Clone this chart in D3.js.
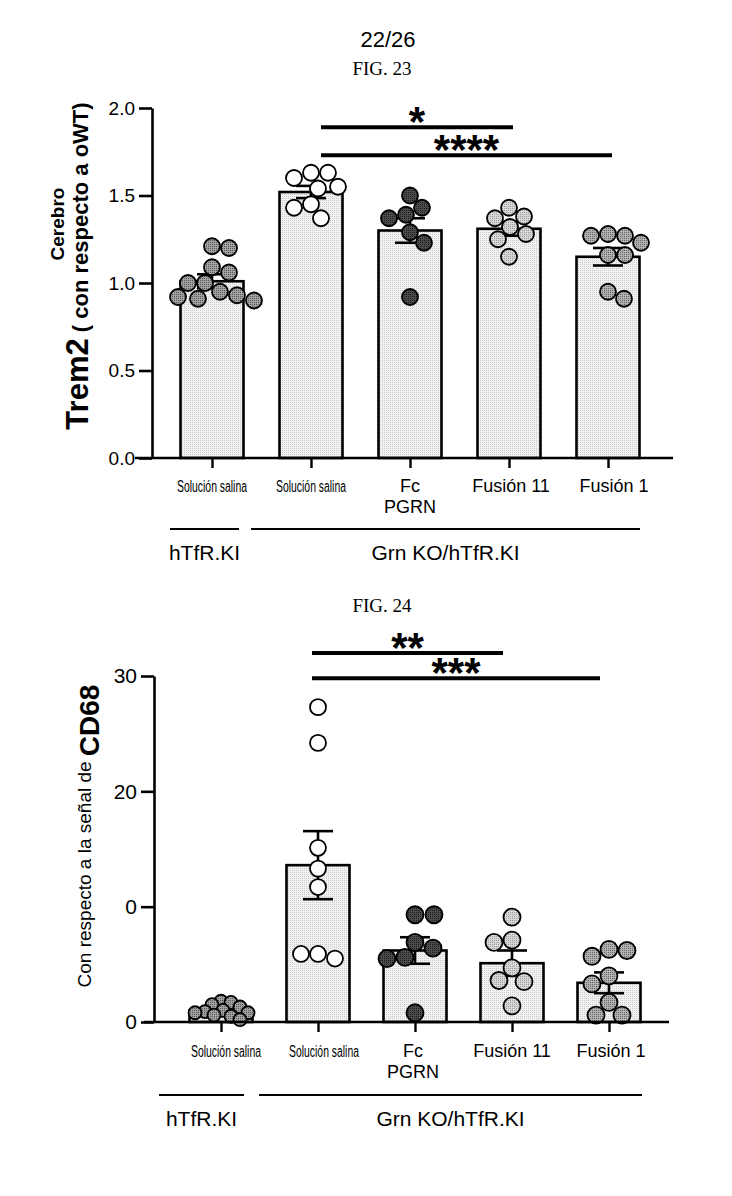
<!DOCTYPE html>
<html>
<head>
<meta charset="utf-8">
<script src="https://cdn.jsdelivr.net/npm/d3@7"></script>
<style>
  body { margin: 0; background: #fff; }
  svg text { font-family: "Liberation Sans", Arial, sans-serif; fill: #000; }
</style>
</head>
<body>
<svg id="page" width="732" height="1196"></svg>
<script>
// Category labels (one array per line) and genotype groups
var catLabels = [["Solución salina"], ["Solución salina"], ["Fc", "PGRN"], ["Fusión 11"], ["Fusión  1"]];
var groupNames = ["hTfR.KI", "Grn KO/hTfR.KI"];
var groupSpans = [[0, 0], [1, 4]];

// FIG. 23 - Trem2 cerebro
var trem2Ticks = [0, 0.5, 1.0, 1.5, 2.0];
var trem2TickLabels = ["0.0", "0.5", "1.0", "1.5", "2.0"];
var trem2Means = [1.01, 1.52, 1.30, 1.31, 1.15];
var trem2Sems = [0.04, 0.035, 0.07, 0.04, 0.05];
var trem2Points = [
  [1.21, 1.20, 1.09, 1.06, 1.00, 1.00, 0.95, 0.93, 0.92, 0.91, 0.90],
  [1.63, 1.63, 1.60, 1.55, 1.54, 1.45, 1.43, 1.37],
  [1.50, 1.43, 1.39, 1.37, 1.29, 1.23, 0.92],
  [1.43, 1.38, 1.37, 1.32, 1.28, 1.25, 1.15],
  [1.28, 1.27, 1.27, 1.23, 1.16, 1.16, 0.95, 0.91]
];
var trem2Sig = [[1, 3, 1.89, "*"], [1, 4, 1.73, "****"]];

// FIG. 24 - CD68
var cd68Ticks = [0, 10, 20, 30];
var cd68TickLabels = ["0", "0", "20", "30"];
var cd68Means = [1.0, 13.6, 6.2, 5.1, 3.4];
var cd68Sems = [0.15, 2.95, 1.15, 1.1, 0.9];
var cd68Points = [
  [1.8, 1.7, 1.5, 1.3, 1.0, 0.9, 0.8, 0.8, 0.6, 0.5, 0.2],
  [27.3, 24.2, 15.1, 13.3, 11.7, 5.9, 5.9, 5.5],
  [9.3, 9.3, 6.9, 6.4, 5.6, 5.5, 0.8],
  [9.1, 7.1, 6.9, 4.7, 3.6, 3.5, 1.4],
  [6.3, 6.2, 5.7, 4.0, 3.3, 1.7, 0.6, 0.6]
];
var cd68Sig = [[1, 3, 32.0, "**"], [1, 4, 29.8, "***"]];

var svg = d3.select("#page");
var defs = svg.append("defs");

// small dotted textures like the scanned print
function makePattern(id, base, dot) {
  var p = defs.append("pattern").attr("id", id)
    .attr("patternUnits", "userSpaceOnUse").attr("width", 2).attr("height", 2);
  p.append("rect").attr("width", 2).attr("height", 2).attr("fill", base);
  p.append("rect").attr("width", 1).attr("height", 1).attr("fill", dot);
  return "url(#" + id + ")";
}
var barFill = makePattern("barFill", "#f2f2f2", "#cdcdcd");
var pointFills = [
  makePattern("pf0", "#a2a2a2", "#555"),
  "#ffffff",
  makePattern("pf2", "#4c4c4c", "#1c1c1c"),
  makePattern("pf3", "#d8d8d8", "#9c9c9c"),
  makePattern("pf4", "#b2b2b2", "#646464")
];

// page header
svg.append("text").attr("x", 388).attr("y", 47).attr("text-anchor", "middle")
  .style("font-size", "22px").text("22/26");

// simple beeswarm: push each point sideways until it does not overlap
// (alternate the side tried first so the swarm stays centred)
function swarmOffsets(vals, y, minDist) {
  var placed = [], out = [];
  var order = d3.range(vals.length).sort(function(a, b) { return vals[b] - vals[a]; });
  order.forEach(function(i, n) {
    var py = y(vals[i]);
    var side = n % 2 ? 1 : -1;
    for (var k = 0; k < 400; k++) {
      var dx = (k % 2 ? side : -side) * Math.ceil(k / 2);
      var ok = placed.every(function(p) { return Math.hypot(p.x - dx, p.y - py) >= minDist; });
      if (ok) { placed.push({x: dx, y: py}); out[i] = dx; break; }
    }
  });
  return out;
}

function drawPanel(o) {
  var g = svg.append("g");

  // figure caption
  g.append("text").attr("x", 382).attr("y", o.figY).attr("text-anchor", "middle")
    .style("font-family", "'Liberation Serif', 'Times New Roman', serif")
    .style("font-size", "19px").text(o.fig);

  var y = d3.scaleLinear().domain([0, o.yMax]).range([o.yBottom, o.yTop]);
  var x = d3.scalePoint().domain(d3.range(catLabels.length)).range([o.xFirst, o.xLast]);

  // bars
  g.selectAll(".bar").data(o.means).enter().append("rect")
    .attr("class", "bar")
    .attr("x", function(d, i) { return x(i) - o.barW / 2; })
    .attr("y", function(d) { return y(d); })
    .attr("width", o.barW)
    .attr("height", function(d) { return y(0) - y(d); })
    .attr("fill", barFill).attr("stroke", "#000").attr("stroke-width", 2.6);

  // error bars (mean +/- SEM)
  var eb = g.selectAll(".err").data(o.means).enter().append("g").attr("class", "err")
    .attr("stroke", "#000").attr("stroke-width", 2.6);
  eb.append("line")
    .attr("x1", function(d, i) { return x(i); }).attr("x2", function(d, i) { return x(i); })
    .attr("y1", function(d, i) { return y(d + o.sems[i]); })
    .attr("y2", function(d, i) { return y(d - o.sems[i]); });
  [1, -1].forEach(function(s) {
    eb.append("line")
      .attr("x1", function(d, i) { return x(i) - 15; }).attr("x2", function(d, i) { return x(i) + 15; })
      .attr("y1", function(d, i) { return y(d + s * o.sems[i]); })
      .attr("y2", function(d, i) { return y(d + s * o.sems[i]); });
  });

  // individual animals
  o.points.forEach(function(vals, i) {
    var r = o.radius[i];
    var offs = swarmOffsets(vals, y, 2 * r * o.spread[i]);
    g.selectAll(".pt" + i).data(vals).enter().append("circle")
      .attr("class", "pt" + i)
      .attr("cx", function(d, j) { return x(i) + offs[j]; })
      .attr("cy", function(d) { return y(d); })
      .attr("r", r)
      .attr("fill", pointFills[i]).attr("stroke", "#000").attr("stroke-width", 1.8);
  });

  // y axis
  var ya = g.append("g").attr("transform", "translate(" + o.yAxisX + ",0)")
    .call(d3.axisLeft(y).tickValues(o.ticks).tickSize(13).tickSizeOuter(0).tickPadding(4)
      .tickFormat(function(d, i) { return o.tickLabels[i]; }));
  ya.select(".domain").attr("stroke-width", 2.6);
  ya.selectAll(".tick line").attr("stroke-width", 2.6);
  ya.selectAll(".tick text").attr("font-family", null).style("font-size", o.tickFont);

  // x axis
  g.append("line").attr("x1", o.xAxisFrom).attr("x2", o.xAxisTo)
    .attr("y1", y(0)).attr("y2", y(0)).attr("stroke", "#000").attr("stroke-width", 2.6);
  var xa = g.append("g").attr("transform", "translate(0," + y(0) + ")")
    .call(d3.axisBottom(x).tickSize(10).tickFormat(""));
  xa.select(".domain").remove();
  xa.selectAll(".tick line").attr("stroke-width", 2.4);

  // category labels
  catLabels.forEach(function(lines, i) {
    lines.forEach(function(t, k) {
      var tx = g.append("text").attr("x", x(i) + o.labelDx[i]).attr("y", o.catY + k * 21)
        .attr("text-anchor", "middle").text(t);
      if (t.indexOf("salina") >= 0) {
        tx.style("font-size", "16px").attr("textLength", 70).attr("lengthAdjust", "spacingAndGlyphs");
      } else {
        tx.style("font-size", "18px");
      }
    });
  });

  // genotype group rules and names
  groupSpans.forEach(function(s, k) {
    g.append("line").attr("x1", o.groupX[k][0]).attr("x2", o.groupX[k][1])
      .attr("y1", o.groupLineY).attr("y2", o.groupLineY)
      .attr("stroke", "#000").attr("stroke-width", 2);
    g.append("text").attr("x", (o.groupX[k][0] + o.groupX[k][1]) / 2 + o.groupDx[k])
      .attr("y", o.groupLineY + 31).attr("text-anchor", "middle")
      .style("font-size", "21px").text(groupNames[k]);
  });

  // significance bars
  o.sig.forEach(function(s) {
    var x1 = x(s[0]) + o.sigDx[0], x2 = x(s[1]) + o.sigDx[1];
    g.append("line").attr("x1", x1).attr("x2", x2).attr("y1", y(s[2])).attr("y2", y(s[2]))
      .attr("stroke", "#000").attr("stroke-width", 4);
    g.append("text").attr("x", (x1 + x2) / 2).attr("y", y(s[2]) + o.starDy)
      .attr("text-anchor", "middle").style("font-size", "42px").style("font-weight", "bold")
      .text(s[3]);
  });

  // y title
  var yt = g.append("text").attr("text-anchor", "middle")
    .attr("transform", "translate(" + o.titleX + "," + o.titleY + ") rotate(-90)");
  o.title.forEach(function(p) {
    yt.append("tspan").attr("dy", p[3]).style("font-size", p[1]).style("font-weight", p[2]).text(p[0]);
  });
  if (o.title2) {
    g.append("text").attr("text-anchor", "middle")
      .attr("transform", "translate(" + o.title2[1] + "," + o.title2[2] + ") rotate(-90)")
      .style("font-size", "19px").style("font-weight", "bold").text(o.title2[0]);
  }
}

drawPanel({
  fig: "FIG. 23", figY: 75,
  yMax: 2, yTop: 108, yBottom: 458, yAxisX: 152,
  xFirst: 212, xLast: 608, xAxisFrom: 135, xAxisTo: 673, barW: 63,
  means: trem2Means, sems: trem2Sems, points: trem2Points,
  radius: [8, 8, 8, 8, 8], spread: [1.06, 1.06, 1.06, 1.06, 1.06],
  ticks: trem2Ticks, tickLabels: trem2TickLabels, tickFont: "19px",
  catY: 492, labelDx: [0, 0, 0, 2, 6],
  groupLineY: 529, groupX: [[170, 239], [251, 640]], groupDx: [0, 0],
  sig: trem2Sig, sigDx: [10, 4], starDy: 9,
  titleX: 88, titleY: 266,
  title: [["Trem2", "31px", "bold", 0], [" ( con respecto a oWT)", "22px", "bold", 0]],
  title2: ["Cerebro", 64, 224]
});

drawPanel({
  fig: "FIG. 24", figY: 612,
  yMax: 30, yTop: 676, yBottom: 1022, yAxisX: 154,
  xFirst: 221, xLast: 609, xAxisFrom: 144, xAxisTo: 669, barW: 63,
  means: cd68Means, sems: cd68Sems, points: cd68Points,
  radius: [6.5, 8, 8.5, 8.5, 8.5], spread: [0.72, 1.06, 1.06, 1.06, 1.06],
  ticks: cd68Ticks, tickLabels: cd68TickLabels, tickFont: "21px",
  catY: 1057, labelDx: [5, 6, -2, 0, 2],
  groupLineY: 1095, groupX: [[159, 244], [259, 642]], groupDx: [0, 0],
  sig: cd68Sig, sigDx: [-6, -9], starDy: 9,
  titleX: 99, titleY: 836,
  title: [["Con respecto a la señal de  ", "19px", "normal", -8], ["CD68", "28px", "bold", 8]]
});
</script>
</body>
</html>
